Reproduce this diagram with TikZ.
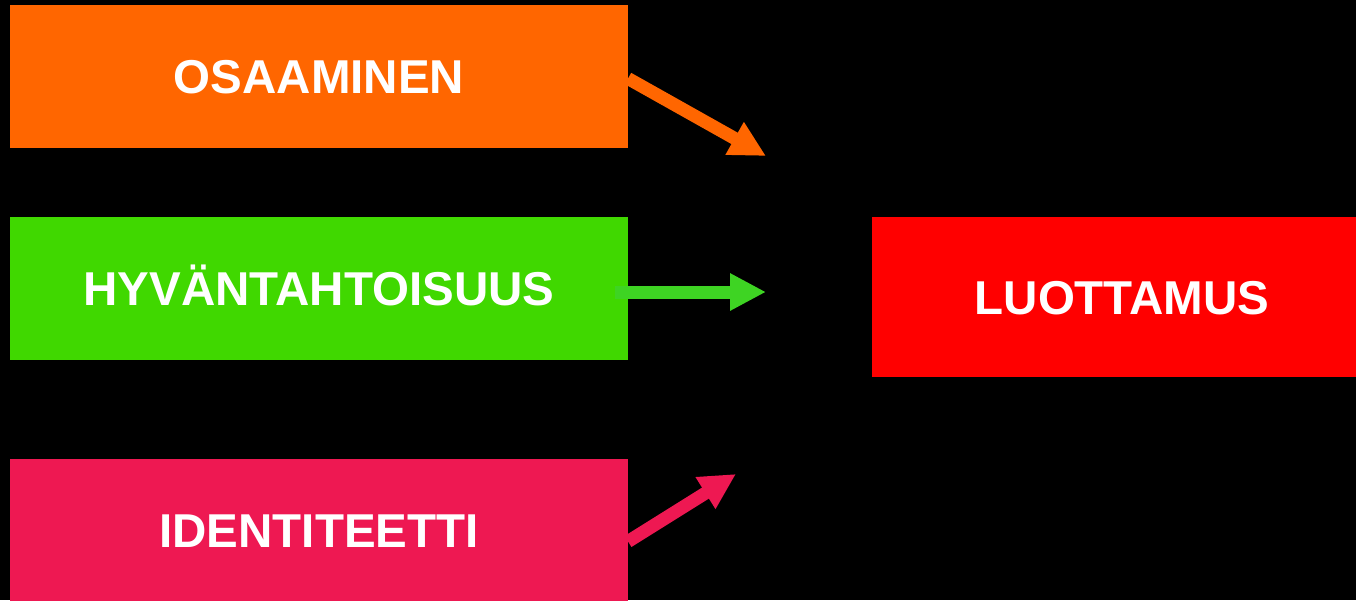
\documentclass[tikz,border=0pt]{standalone}
\usepackage{fontspec}
\setmainfont{Liberation Sans}
\usetikzlibrary{arrows.meta}
\definecolor{cOrange}{HTML}{FF6600}
\definecolor{cGreen}{HTML}{40D800}
\definecolor{cGreenArrow}{HTML}{3ED423}
\definecolor{cPink}{HTML}{EE1852}
\definecolor{cRed}{HTML}{FF0000}
\begin{document}
\begin{tikzpicture}[x=1pt,y=-1pt,
  box/.style={rectangle, inner sep=0pt, outer sep=0pt, text=white,
    font=\fontsize{47.5}{47.5}\selectfont\bfseries, text height=34pt, text depth=0pt},
  leftbox/.style={box, minimum width=618pt, minimum height=143pt},
  arr/.style={line width=13pt, -{Triangle[length=36pt,width=35pt]}}
]
\useasboundingbox (0,0) rectangle (1356,600);
\fill[black] (0,0) rectangle (1356,600);
\clip (0,0) rectangle (1356,600);
\node[leftbox, fill=cOrange] (osa) at (319,76.5) {OSAAMINEN};
\node[leftbox, fill=cGreen] (hyv) at (319,288.5) {HYVÄNTAHTOISUUS};
\node[leftbox, fill=cPink] (ide) at (319,530.5) {IDENTITEETTI};
\node[box, fill=cRed, minimum width=484pt, minimum height=160pt] (luo) at (1114,297) {\hspace*{16pt}LUOTTAMUS};
\coordinate (tipA) at (766,156);
\coordinate (tipB) at (766,292);
\coordinate (tipC) at (736,474);
\draw[arr, cOrange] ([yshift=-2pt]osa.east) -- (tipA);
\draw[arr, cGreenArrow] ([xshift=-13pt,yshift=-3.5pt]hyv.east) -- (tipB);
\draw[arr, cPink] ([yshift=-11pt]ide.east) -- (tipC);
\end{tikzpicture}
\end{document}
